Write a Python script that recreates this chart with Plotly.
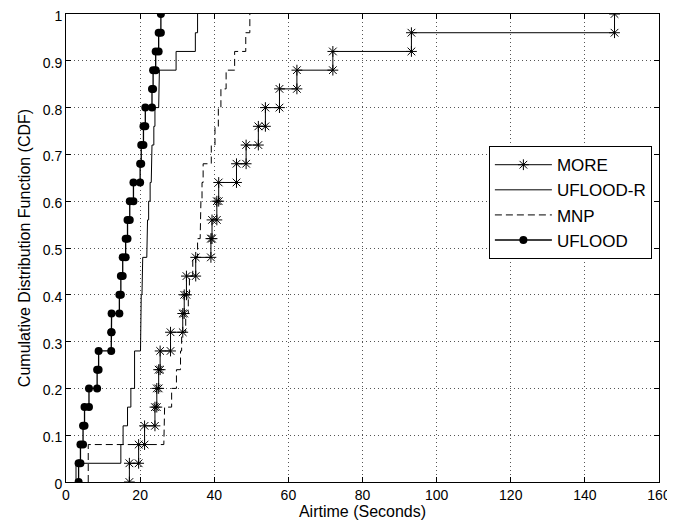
import plotly.graph_objects as go

# Sorted sample values (seconds) for each scheme; CDF steps of 1/25
more_x = [17.1, 19.6, 21.2, 24.0, 24.5, 25.0, 25.4, 28.2, 31.5, 31.9, 32.5, 35.0, 39.1,
          39.4, 40.7, 41.2, 46.0, 48.6, 51.9, 53.8, 57.6, 62.3, 72.0, 93.2, 148.0]
ufloodr_x = [2.7, 14.8, 15.4, 16.6, 17.5, 18.5, 18.5, 20.1, 20.2, 20.3, 20.5, 20.7, 21.8,
             22.0, 22.3, 22.7, 23.0, 23.2, 23.7, 24.0, 25.0, 25.2, 29.7, 34.9, 35.5]
mnp_x = [6.0, 6.0, 26.4, 26.6, 28.5, 29.8, 30.9, 31.2, 32.3, 33.0, 33.3, 34.2, 35.5,
         36.2, 36.4, 36.7, 37.0, 39.2, 40.2, 41.1, 41.8, 43.2, 45.5, 48.5, 49.6]
uflood_x = [3.4, 3.9, 4.6, 5.0, 6.2, 8.4, 8.8, 12.2, 12.3, 14.4, 14.8, 15.3, 16.1,
            16.6, 17.2, 18.2, 20.0, 20.3, 20.9, 21.4, 23.2, 23.5, 24.2, 25.0, 25.6]

series_names = ["MORE", "UFLOOD-R", "MNP", "UFLOOD"]

x_ticks = [0, 20, 40, 60, 80, 100, 120, 140, 160]
y_ticks = [0, 0.1, 0.2, 0.3, 0.4, 0.5, 0.6, 0.7, 0.8, 0.9, 1]
y_tick_text = ["0", "0.1", "0.2", "0.3", "0.4", "0.5", "0.6", "0.7", "0.8", "0.9", "1"]


def stairs(xs):
    n = len(xs)
    X, Y = [], []
    for i, x in enumerate(xs):
        X += [x, x]
        Y += [i / n, (i + 1) / n]
    return X, Y


FONT = "Liberation Sans, Arial, Helvetica, sans-serif"

fig = go.Figure()

X, Y = stairs(more_x)
fig.add_trace(go.Scatter(x=X, y=Y, name=series_names[0], mode="lines+markers",
                         line=dict(color="black", width=1),
                         marker=dict(symbol="asterisk", size=9, color="black",
                                     line=dict(color="black", width=1))))
X, Y = stairs(ufloodr_x)
fig.add_trace(go.Scatter(x=X, y=Y, name=series_names[1], mode="lines",
                         line=dict(color="black", width=1)))
X, Y = stairs(mnp_x)
fig.add_trace(go.Scatter(x=X, y=Y, name=series_names[2], mode="lines",
                         line=dict(color="black", width=1, dash="7px,4px")))
X, Y = stairs(uflood_x)
fig.add_trace(go.Scatter(x=X, y=Y, name=series_names[3], mode="lines+markers",
                         line=dict(color="black", width=1.3),
                         marker=dict(symbol="circle", size=8, color="black")))

axis_common = dict(showline=True, linecolor="black", linewidth=1, mirror="allticks",
                   ticks="inside", ticklen=5, tickcolor="black", automargin=False,
                   ticklabeloverflow="allow",
                   showgrid=True, gridcolor="#555555", gridwidth=1, griddash="1px,3px",
                   zeroline=False, tickfont=dict(family=FONT, size=14, color="black"))

fig.update_xaxes(range=[0, 160], tickvals=x_ticks,
                 title=dict(text="Airtime (Seconds)", font=dict(family=FONT, size=16, color="black"),
                            standoff=3),
                 **axis_common)
fig.update_yaxes(range=[0, 1], tickvals=y_ticks, ticktext=y_tick_text, ticklabelshift=2,
                 title=dict(text="Cumulative Distribution Function (CDF)",
                            font=dict(family=FONT, size=16, color="black"), standoff=8),
                 **axis_common)

fig.update_layout(width=667, height=521,
                  margin=dict(l=58, r=16, t=6, b=47),
                  paper_bgcolor="white", plot_bgcolor="white",
                  font=dict(family=FONT, size=14, color="black"),
                  showlegend=True,
                  legend=dict(x=0.988, y=0.7176, xanchor="right", yanchor="top",
                              bgcolor="white", bordercolor="black", borderwidth=1,
                              font=dict(family=FONT, size=17, color="black"),
                              itemwidth=57, tracegroupgap=0))

fig.write_html("out.html")
